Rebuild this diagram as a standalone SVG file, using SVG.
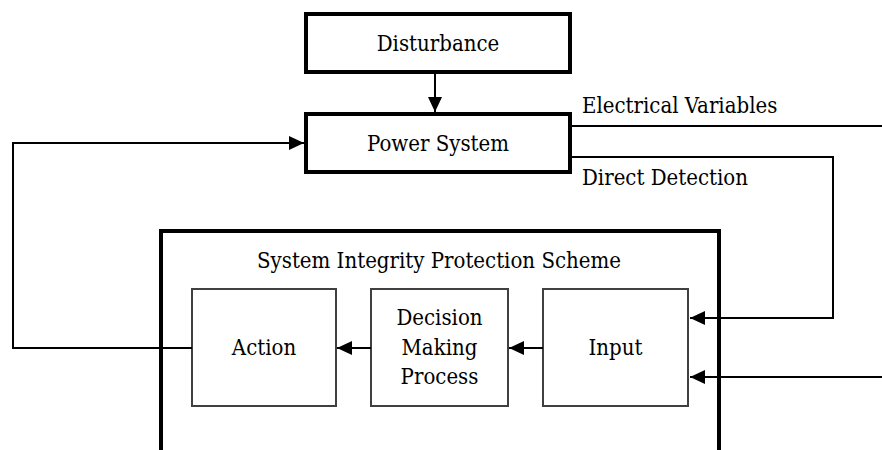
<svg xmlns="http://www.w3.org/2000/svg" width="882" height="450" viewBox="0 0 882 450">
<style>
text{font-family:'DejaVu Serif Condensed','DejaVu Serif',serif;font-stretch:condensed;font-size:22px;fill:#000}
.c{text-anchor:middle}
.heavy{fill:#fff;stroke:#000;stroke-width:4}
.inner{fill:#fff;stroke:#404040;stroke-width:2}
.ln{fill:none;stroke:#000;stroke-width:2}
</style>
<defs>
<marker id="ah" markerWidth="15" markerHeight="14" refX="15" refY="7" orient="auto" markerUnits="userSpaceOnUse">
<path d="M0,0 L15,7 L0,14 Z" fill="#000"/>
</marker>
</defs>
<g id="sips">
<path class="heavy" d="M161,452 L161,231 L719,231 L719,452"/>
<text class="c" x="439" y="268">System Integrity Protection Scheme</text>
</g>
<g id="disturbance">
<rect class="heavy" x="306" y="14" width="264" height="58"/>
<text class="c" x="438" y="51">Disturbance</text>
</g>
<g id="power">
<rect class="heavy" x="306" y="114" width="264" height="58"/>
<text class="c" x="438" y="151">Power System</text>
</g>
<g id="action">
<rect class="inner" x="192" y="289" width="144" height="117"/>
<text class="c" x="264" y="355">Action</text>
</g>
<g id="decision">
<rect class="inner" x="371" y="289" width="137" height="117"/>
<text class="c" x="439.5" y="325">Decision</text>
<text class="c" x="439.5" y="355">Making</text>
<text class="c" x="439.5" y="384">Process</text>
</g>
<g id="input">
<rect class="inner" x="543" y="289" width="145" height="117"/>
<text class="c" x="615.5" y="355">Input</text>
</g>
<g id="connectors">
<line class="ln" x1="435" y1="72" x2="435" y2="112" marker-end="url(#ah)"/>
<polyline class="ln" points="192,348 13,348 13,143 304,143" marker-end="url(#ah)"/>
<line class="ln" x1="570" y1="126" x2="882" y2="126"/>
<text x="582" y="113">Electrical Variables</text>
<polyline class="ln" points="570,157 833,157 833,318 690,318" marker-end="url(#ah)"/>
<text x="582" y="185">Direct Detection</text>
<line class="ln" x1="882" y1="377" x2="690" y2="377" marker-end="url(#ah)"/>
<line class="ln" x1="543" y1="348" x2="509" y2="348" marker-end="url(#ah)"/>
<line class="ln" x1="371" y1="348" x2="337" y2="348" marker-end="url(#ah)"/>
</g>
</svg>
